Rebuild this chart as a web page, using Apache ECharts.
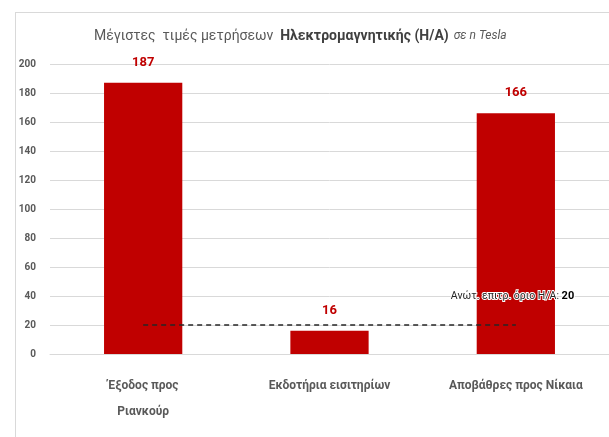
<!DOCTYPE html>
<html><head><meta charset="utf-8">
<script src="https://cdn.jsdelivr.net/npm/echarts@6/dist/echarts.min.js"></script>
<style>html,body{margin:0;padding:0;background:#fff}#c{width:609px;height:437px}
#frame{position:absolute;left:15px;top:12px;width:600px;height:430px;border:1px solid #d9d9d9;box-sizing:border-box;pointer-events:none}</style>
</head><body><div id="c"></div><div id="frame"></div>
<script>
var categories = ['Έξοδος προς\nΡιανκούρ', 'Εκδοτήρια εισιτηρίων', 'Αποβάθρες προς Νίκαια'];
var values = [187, 16, 166];
var limitValues = [20, 20, 20];
var limitLabel = 'Ανώτ. επιτρ. όριο Η/Α: ';
var yTicks = {min: 0, max: 200, interval: 20};
var FONT = 'Roboto, sans-serif';
var chart = echarts.init(document.getElementById('c'));
chart.setOption({
  animation: false,
  title: {
    text: '{n|Μέγιστες  τιμές μετρήσεων  }{b|Ηλεκτρομαγνητικής (Η/Α)} {i|σε n Tesla}',
    left: 89, top: 22,
    textStyle: {
      fontWeight: 'normal',
      rich: {
        n: {fontFamily: FONT, fontSize: 14, color: '#595959', fontWeight: 'normal'},
        b: {fontFamily: FONT, fontSize: 14, color: '#404040', fontWeight: 'bold'},
        i: {fontFamily: FONT, fontSize: 12, color: '#595959', fontStyle: 'italic', fontWeight: 'normal'}
      }
    }
  },
  grid: {left: 50, right: -4, top: 64, bottom: 83},
  xAxis: {
    type: 'category', data: categories,
    axisLine: {lineStyle: {color: '#d9d9d9', width: 1}},
    axisTick: {show: false},
    axisLabel: {interval: 0, fontFamily: FONT, fontSize: 12, fontWeight: 'bold', color: '#595959', margin: 19, lineHeight: 26}
  },
  yAxis: {
    type: 'value', min: yTicks.min, max: yTicks.max, interval: yTicks.interval,
    axisLine: {show: false}, axisTick: {show: false},
    axisLabel: {fontFamily: FONT, fontSize: 10, fontWeight: 'bold', color: '#595959', margin: 14},
    splitLine: {lineStyle: {color: '#d9d9d9', width: 1}}
  },
  series: [{
    type: 'bar', data: values, barWidth: '42%',
    itemStyle: {color: '#c00000'},
    label: {show: true, position: 'top', distance: 14, fontFamily: FONT, fontSize: 13, fontWeight: 'bold', color: '#c00000'}
  }, {
    type: 'line', data: limitValues, symbol: 'none', silent: true,
    lineStyle: {color: '#262626', width: 1.5, type: [5, 4]},
    label: {show: false},
    endLabel: {
      show: true,
      formatter: function(p){ return '{a|' + limitLabel + '}{b|' + p.value + '}'; },
      offset: [-73, -29],
      rich: {
        a: {fontFamily: FONT, fontSize: 10.5, color: '#262626', textBorderColor: '#fff', textBorderWidth: 2},
        b: {fontFamily: FONT, fontSize: 11, fontWeight: 'bold', color: '#000', textBorderColor: '#fff', textBorderWidth: 2}
      }
    }
  }]
});
</script></body></html>
